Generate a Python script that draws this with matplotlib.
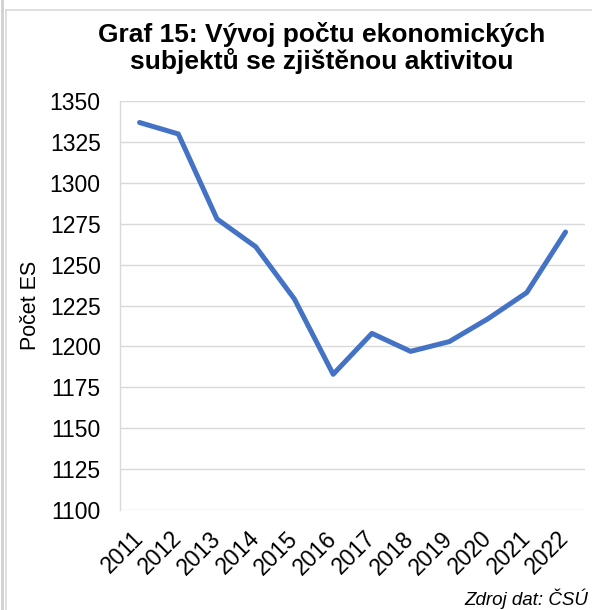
import matplotlib
matplotlib.use("Agg")
import matplotlib.pyplot as plt
from matplotlib.lines import Line2D

plt.rcParams["font.family"] = ["Liberation Sans", "DejaVu Sans"]

# Data
years = ["2011", "2012", "2013", "2014", "2015", "2016",
         "2017", "2018", "2019", "2020", "2021", "2022"]
counts = [1337, 1330, 1278, 1261, 1229, 1183,
          1208, 1197, 1203, 1217, 1233, 1270]
y_ticks = [1100, 1125, 1150, 1175, 1200, 1225, 1250, 1275, 1300, 1325, 1350]

title = "Graf 15: Vývoj počtu ekonomických\nsubjektů se zjištěnou aktivitou"
y_label = "Počet ES"
source = "Zdroj dat: ČSÚ"

fig = plt.figure(figsize=(5.92, 6.10), dpi=100)
ax = fig.add_axes([0.203, 0.164, 0.785, 0.670])

x = list(range(len(years)))
ax.plot(x, counts, color="#4472C4", linewidth=3.6,
        solid_joinstyle="round", solid_capstyle="round", zorder=3)

ax.set_xlim(-0.5, len(years) - 0.5)
ax.set_ylim(1100, 1350)
ax.set_yticks(y_ticks)
ax.set_xticks(x)
ax.set_xticklabels(years, rotation=45, ha="right", va="center",
                   rotation_mode="anchor")

ax.grid(axis="y", color="#D9D9D9", linewidth=1.0)
ax.set_axisbelow(True)
for side in ["top", "right", "bottom"]:
    ax.spines[side].set_visible(False)
ax.spines["left"].set_color("#D9D9D9")
ax.spines["left"].set_linewidth(1.0)

ax.tick_params(axis="y", length=0, pad=14, labelsize=16.5, colors="#000000")
ax.tick_params(axis="x", length=0, pad=18, labelsize=16.5, colors="#000000")
ax.set_ylabel(y_label, fontsize=15.5, labelpad=6)

fig.text(0.544, 0.922, title, ha="center", va="center",
         fontsize=19, fontweight="bold", linespacing=1.05)
fig.text(0.993, 0.019, source, ha="right", va="center",
         fontsize=13.5, style="italic")

# chart frame lines
fig.add_artist(Line2D([6 / 592, 6 / 592], [0, 1 - 10 / 610],
                      transform=fig.transFigure, color="#D9D9D9", linewidth=1.2))
fig.add_artist(Line2D([6 / 592, 1], [1 - 10 / 610, 1 - 10 / 610],
                      transform=fig.transFigure, color="#D9D9D9", linewidth=1.2))
fig.add_artist(Line2D([2 / 592, 2 / 592], [0, 1],
                      transform=fig.transFigure, color="#D0D0D0", linewidth=2.0))

fig.savefig("out.png", dpi=100)
